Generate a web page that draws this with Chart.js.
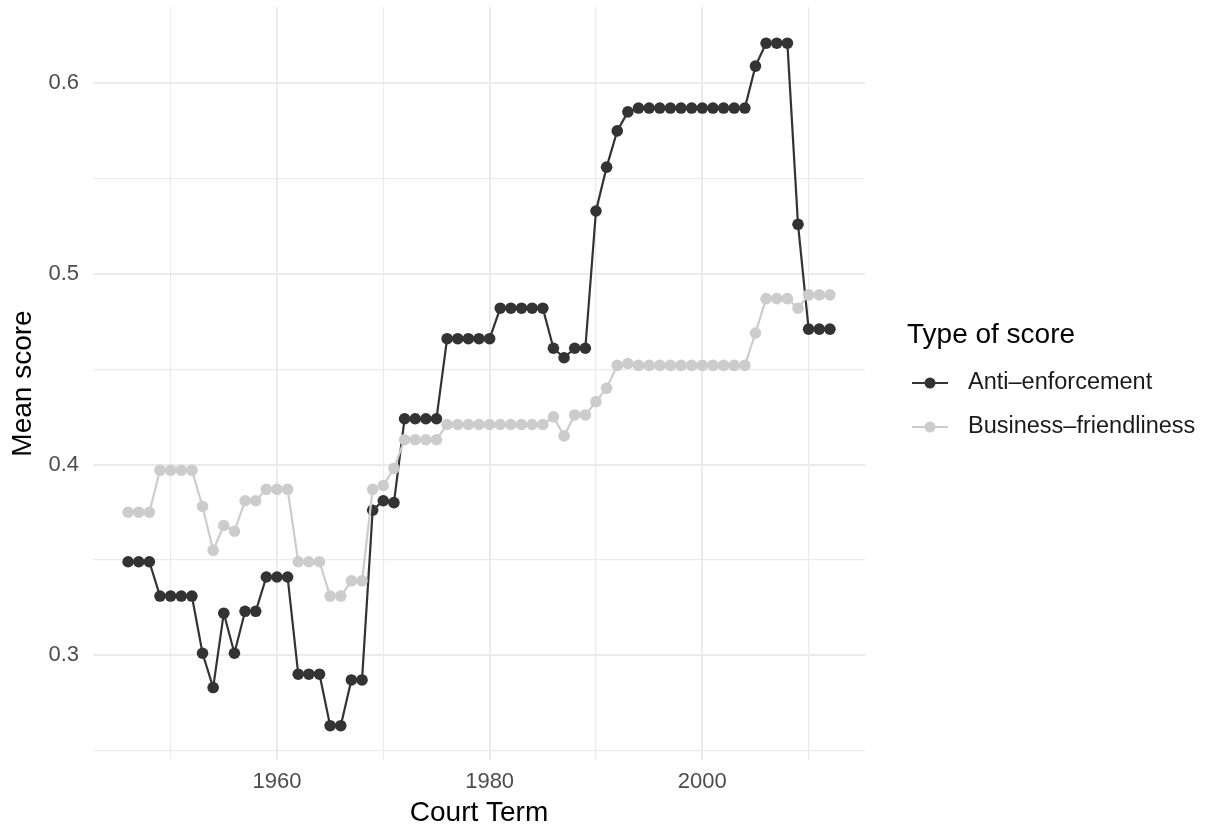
<!DOCTYPE html>
<html>
<head>
<meta charset="utf-8">
<script src="https://cdn.jsdelivr.net/npm/chart.js@4/dist/chart.umd.min.js"></script>
<style>
  body { margin: 0; background: #fff; }
  #wrap { width: 1214px; height: 830px; }
</style>
</head>
<body>
<div id="wrap"><canvas id="lineChart"></canvas></div>
<script>
// Court terms (x values)
const years = [
  1946, 1947, 1948, 1949, 1950, 1951, 1952, 1953, 1954, 1955,
  1956, 1957, 1958, 1959, 1960, 1961, 1962, 1963, 1964, 1965,
  1966, 1967, 1968, 1969, 1970, 1971, 1972, 1973, 1974, 1975,
  1976, 1977, 1978, 1979, 1980, 1981, 1982, 1983, 1984, 1985,
  1986, 1987, 1988, 1989, 1990, 1991, 1992, 1993, 1994, 1995,
  1996, 1997, 1998, 1999, 2000, 2001, 2002, 2003, 2004, 2005,
  2006, 2007, 2008, 2009, 2010, 2011, 2012
];

// Mean anti-enforcement score per term
const antiEnforcement = [
  0.349, 0.349, 0.349, 0.331, 0.331, 0.331, 0.331, 0.301, 0.283, 0.322,
  0.301, 0.323, 0.323, 0.341, 0.341, 0.341, 0.290, 0.290, 0.290, 0.263,
  0.263, 0.287, 0.287, 0.376, 0.381, 0.380, 0.424, 0.424, 0.424, 0.424,
  0.466, 0.466, 0.466, 0.466, 0.466, 0.482, 0.482, 0.482, 0.482, 0.482,
  0.461, 0.456, 0.461, 0.461, 0.533, 0.556, 0.575, 0.585, 0.587, 0.587,
  0.587, 0.587, 0.587, 0.587, 0.587, 0.587, 0.587, 0.587, 0.587, 0.609,
  0.621, 0.621, 0.621, 0.526, 0.471, 0.471, 0.471
];

// Mean business-friendliness score per term
const businessFriendliness = [
  0.375, 0.375, 0.375, 0.397, 0.397, 0.397, 0.397, 0.378, 0.355, 0.368,
  0.365, 0.381, 0.381, 0.387, 0.387, 0.387, 0.349, 0.349, 0.349, 0.331,
  0.331, 0.339, 0.339, 0.387, 0.389, 0.398, 0.413, 0.413, 0.413, 0.413,
  0.421, 0.421, 0.421, 0.421, 0.421, 0.421, 0.421, 0.421, 0.421, 0.421,
  0.425, 0.415, 0.426, 0.426, 0.433, 0.440, 0.452, 0.453, 0.452, 0.452,
  0.452, 0.452, 0.452, 0.452, 0.452, 0.452, 0.452, 0.452, 0.452, 0.469,
  0.487, 0.487, 0.487, 0.482, 0.489, 0.489, 0.489
];

const seriesNames = ['Anti\u2013enforcement', 'Business\u2013friendliness'];
const seriesColors = ['#333333', '#cccccc'];
const xTickLabels = [1960, 1980, 2000];
const yTickLabels = [0.3, 0.4, 0.5, 0.6];

const FONT = "'Liberation Sans', Arial, Helvetica, sans-serif";
const GRID = '#ebebeb';

function toPoints(vals) {
  return years.map((y, i) => ({ x: y, y: vals[i] }));
}

function isMajorY(v) {
  return yTickLabels.some(t => Math.abs(t - v) < 1e-6);
}

// ggplot-like legend on the right
const sideLegend = {
  id: 'sideLegend',
  afterDraw(chart) {
    const ctx = chart.ctx;
    ctx.save();
    ctx.textBaseline = 'middle';
    ctx.textAlign = 'left';
    ctx.fillStyle = '#000';
    ctx.font = '28px ' + FONT;
    ctx.fillText('Type of score', 907, 335);
    const rowY = [383, 427];
    chart.data.datasets.forEach((ds, i) => {
      const y = rowY[i];
      ctx.strokeStyle = ds.borderColor;
      ctx.lineWidth = 2.2;
      ctx.beginPath();
      ctx.moveTo(912, y);
      ctx.lineTo(948, y);
      ctx.stroke();
      ctx.fillStyle = ds.backgroundColor;
      ctx.beginPath();
      ctx.arc(930, y, 5.5, 0, Math.PI * 2);
      ctx.fill();
      ctx.fillStyle = '#1a1a1a';
      ctx.font = '23.5px ' + FONT;
      ctx.fillText(ds.label, 968, y);
    });
    ctx.restore();
  }
};

const data = {
  datasets: [
    {
      label: seriesNames[0],
      data: toPoints(antiEnforcement),
      borderColor: seriesColors[0],
      backgroundColor: seriesColors[0],
      borderWidth: 2.2,
      pointRadius: 5.8,
      pointBorderWidth: 0,
      order: 2
    },
    {
      label: seriesNames[1],
      data: toPoints(businessFriendliness),
      borderColor: seriesColors[1],
      backgroundColor: seriesColors[1],
      borderWidth: 2.2,
      pointRadius: 5.8,
      pointBorderWidth: 0,
      order: 1
    }
  ]
};

const options = {
  responsive: true,
  maintainAspectRatio: false,
  animation: false,
  layout: { padding: { top: 7, right: 349, left: 0, bottom: 0 } },
  plugins: {
    legend: { display: false },
    tooltip: { enabled: false }
  },
  scales: {
    x: {
      type: 'linear',
      min: 1942.7,
      max: 2015.3,
      afterFit: (scale) => {
        scale.height = 70;
        scale.paddingLeft = 0;
        scale.paddingRight = 0;
      },
      border: { display: false },
      grid: {
        color: GRID,
        drawTicks: false,
        lineWidth: (c) => (xTickLabels.includes(c.tick && c.tick.value) ? 2 : 1.2)
      },
      ticks: {
        stepSize: 10,
        includeBounds: false,
        autoSkip: false,
        maxRotation: 0,
        padding: 9,
        color: '#4d4d4d',
        font: { family: FONT, size: 22 },
        callback: (v) => (xTickLabels.includes(v) ? String(v) : '')
      },
      title: {
        display: true,
        text: 'Court Term',
        color: '#000',
        font: { family: FONT, size: 28 },
        padding: { top: 0, bottom: 0 }
      }
    },
    y: {
      min: 0.245,
      max: 0.64,
      afterFit: (scale) => {
        scale.width = 93;
        scale.paddingTop = 0;
        scale.paddingBottom = 0;
      },
      border: { display: false },
      grid: {
        color: GRID,
        drawTicks: false,
        lineWidth: (c) => (c.tick && isMajorY(c.tick.value) ? 2 : 1.2)
      },
      ticks: {
        stepSize: 0.05,
        includeBounds: false,
        autoSkip: false,
        padding: 14,
        color: '#4d4d4d',
        font: { family: FONT, size: 22 },
        callback: (v) => (isMajorY(v) ? v.toFixed(1) : '')
      },
      title: {
        display: true,
        text: 'Mean score',
        color: '#000',
        font: { family: FONT, size: 28 },
        padding: { top: 6, bottom: 0 }
      }
    }
  }
};

const ctx = document.getElementById('lineChart').getContext('2d');
const lineChart = new Chart(ctx, {
  type: 'line',
  data: data,
  options: options,
  plugins: [sideLegend]
});
</script>
</body>
</html>
